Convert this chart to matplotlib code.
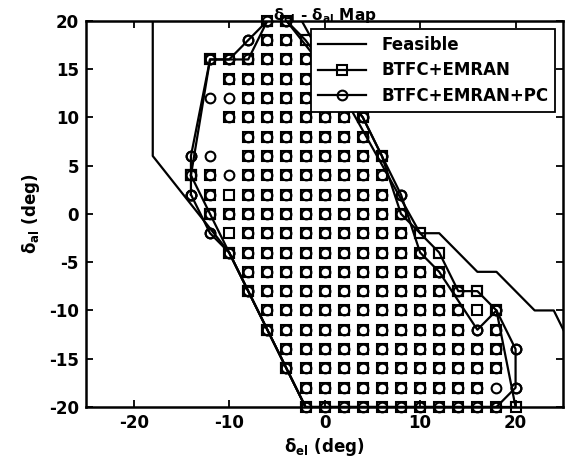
import numpy as np
import matplotlib
matplotlib.use("Agg")
import matplotlib.pyplot as plt

plt.rcParams["font.family"] = ["DejaVu Sans"]
plt.rcParams["font.weight"] = "bold"
plt.rcParams["axes.titleweight"] = "bold"
plt.rcParams["axes.labelweight"] = "bold"
plt.rcParams["font.size"] = 12
plt.rcParams["mathtext.fontset"] = "custom"
plt.rcParams["mathtext.rm"] = "DejaVu Sans:bold"
plt.rcParams["mathtext.it"] = "DejaVu Sans:bold"
plt.rcParams["mathtext.bf"] = "DejaVu Sans:bold"
plt.rcParams["axes.unicode_minus"] = False

# grid rows (delta_al) and, per row, the spans of delta_el that succeeded
rows = [20, 18, 16, 14, 12, 10, 8, 6, 4, 2, 0, -2, -4, -6, -8, -10, -12, -14, -16, -18, -20]
emran_spans = [
    [(-6, -4)], [(-6, -2)], [(-12, 0)], [(-10, 0)], [(-8, 2)], [(-10, 4)], [(-8, 4)],
    [(-8, 6)], [(-14, -12), (-8, 6)], [(-12, 6)], [(-12, 8)], [(-10, 10)], [(-10, 12)],
    [(-8, 12)], [(-8, 16)], [(-6, 18)], [(-6, 14), (18, 18)], [(-4, 18)], [(-4, 18)],
    [(-2, 16)], [(-2, 20)],
]
pc_spans = [
    [(-6, -4)], [(-8, -4)], [(-12, 0)], [(-10, 0)], [(-12, 2)], [(-10, 4)], [(-8, 4)],
    [(-14, -12), (-8, 6)], [(-14, 6)], [(-14, -12), (-8, 8)], [(-12, 8)],
    [(-12, -12), (-8, 8)], [(-10, 10)], [(-8, 12)], [(-8, 14)], [(-6, 14), (18, 18)],
    [(-6, 18)], [(-4, 20)], [(-4, 18)], [(-2, 20)], [(-2, 18)],
]

# boundaries
feas_x = [-18, -18, -10, -2, np.nan, -2.4, 10, 12, 16, 18, 22, 24, 26]
feas_y = [21, 6, -4, -20, np.nan, 20, -2, -2, -6, -6, -10, -10, -14]
emran_bx = [-14, -12, -8, -6, -4, -2, 4, 6, 8, 10, 12, 14, 16, 18, 20, -2, -4, -6, -8, -10, -12, -14]
emran_by = [4, 16, 16, 20, 20, 18, 10, 6, 0, -2, -4, -8, -8, -10, -20, -20, -16, -12, -8, -4, 0, 4]
pc_bx = [-14, -14, -12, -10, -8, -6, -4, 4, 6, 8, 10, 12, 16, 18, 20, 20, 18, -2, -4, -6, -8, -10, -12, -14]
pc_by = [2, 6, 16, 16, 18, 20, 20, 10, 6, 2, -4, -6, -12, -10, -14, -18, -20, -20, -16, -12, -8, -4, -2, 2]


def expand(spans):
    xs, ys = [], []
    for y, row in zip(rows, spans):
        for lo, hi in row:
            for x in range(lo, hi + 1, 2):
                xs.append(x); ys.append(y)
    return xs, ys


fig = plt.figure(figsize=(5.69, 4.63), dpi=100)
ax = fig.add_axes([0.151, 0.121, 0.839, 0.834])

mk = dict(color="k", mfc="none", ms=7, mew=1.5, ls="none", clip_on=False)
sx, sy = expand(emran_spans)
cx, cy = expand(pc_spans)
ax.plot(sx, sy, marker="s", **mk)
ax.plot(cx, cy, marker="o", **mk)

ax.plot(feas_x, feas_y, color="k", lw=1.6, label="Feasible")
ax.plot(emran_bx, emran_by, color="k", lw=1.6, marker="s", ms=7, mfc="none", mew=1.5,
        label="BTFC+EMRAN")
ax.plot(pc_bx, pc_by, color="k", lw=1.6, marker="o", ms=7, mfc="none", mew=1.5,
        label="BTFC+EMRAN+PC")

ax.set_xlim(-25, 25)
ax.set_ylim(-20, 20)
ax.set_xticks([-20, -10, 0, 10, 20])
ax.set_yticks([-20, -15, -10, -5, 0, 5, 10, 15, 20])
ax.tick_params(direction="in", top=True, right=True, length=5, width=1.3, pad=5)
for s in ax.spines.values():
    s.set_linewidth(1.8)

ax.set_title(r"$\delta_{el}$ - $\delta_{al}$ Map", fontsize=11, pad=0.5)
ax.set_xlabel(r"$\delta_{el}$ (deg)", labelpad=3)
ax.set_ylabel(r"$\delta_{al}$ (deg)", labelpad=5)

leg = ax.legend(loc="upper right", fancybox=False, framealpha=1, edgecolor="k",
                handlelength=2.9, handletextpad=0.9, borderpad=0.4, labelspacing=0.45,
                borderaxespad=0.5)
leg.get_frame().set_linewidth(1.3)

plt.savefig("out.png", dpi=100)
